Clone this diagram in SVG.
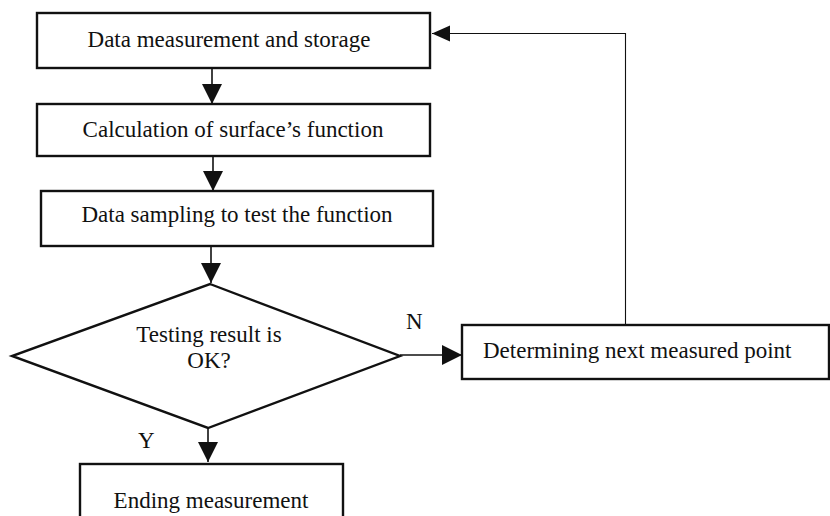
<svg xmlns="http://www.w3.org/2000/svg" width="830" height="516" viewBox="0 0 830 516">
  <style>
    .box { fill: #fff; stroke: #111; stroke-width: 2.4; }
    .lbl { font-family: "Liberation Serif", "Times New Roman", serif; font-size: 23px; fill: #111; }
    .mid { text-anchor: middle; }
    .flow { fill: none; stroke: #111; stroke-width: 1.6; }
    .thin { fill: none; stroke: #111; stroke-width: 1.1; }
  </style>
  <defs>
    <marker id="head" markerUnits="userSpaceOnUse" markerWidth="22" markerHeight="22" refX="20" refY="10" orient="auto">
      <path d="M0,0 L20,10 L0,20 Z" fill="#111"/>
    </marker>
    <marker id="headThin" markerUnits="userSpaceOnUse" markerWidth="20" markerHeight="18" refX="18" refY="8" orient="auto">
      <path d="M0,0 L18,8 L0,16 Z" fill="#111"/>
    </marker>
  </defs>
  <rect width="830" height="516" fill="#fff"/>

  <g id="measure">
    <rect class="box" x="37" y="13" width="393" height="55"/>
    <text class="lbl mid" x="229" y="47">Data measurement and storage</text>
  </g>
  <g id="calc">
    <rect class="box" x="37" y="104" width="393" height="52"/>
    <text class="lbl mid" x="233" y="137">Calculation of surface’s function</text>
  </g>
  <g id="sampling">
    <rect class="box" x="41" y="191" width="392" height="55"/>
    <text class="lbl mid" x="237" y="222">Data sampling to test the function</text>
  </g>
  <g id="test">
    <polygon class="box" points="210,284 400,356 208,428 12,356"/>
    <text class="lbl mid" x="209" y="342">Testing result is</text>
    <text class="lbl mid" x="209" y="368">OK?</text>
  </g>
  <g id="next">
    <rect class="box" x="462" y="325" width="367" height="54"/>
    <text class="lbl" x="483" y="358">Determining next measured point</text>
  </g>
  <g id="ending">
    <rect class="box" x="80" y="464" width="263" height="60"/>
    <text class="lbl mid" x="211" y="508">Ending measurement</text>
  </g>

  <g id="connectors">
    <line class="flow" x1="212" y1="68" x2="212" y2="104" marker-end="url(#head)"/>
    <line class="flow" x1="213" y1="156" x2="213" y2="191" marker-end="url(#head)"/>
    <line class="flow" x1="211" y1="246" x2="211" y2="283" marker-end="url(#head)"/>
    <line class="flow" x1="208" y1="428" x2="208" y2="462" marker-end="url(#head)"/>
    <line class="flow" x1="400" y1="355" x2="462" y2="355" marker-end="url(#head)"/>
    <polyline class="thin" points="625.5,325 625.5,33.5 432,33.5" marker-end="url(#headThin)"/>
    <text class="lbl" x="406" y="329">N</text>
    <text class="lbl" x="138" y="448">Y</text>
  </g>
</svg>
